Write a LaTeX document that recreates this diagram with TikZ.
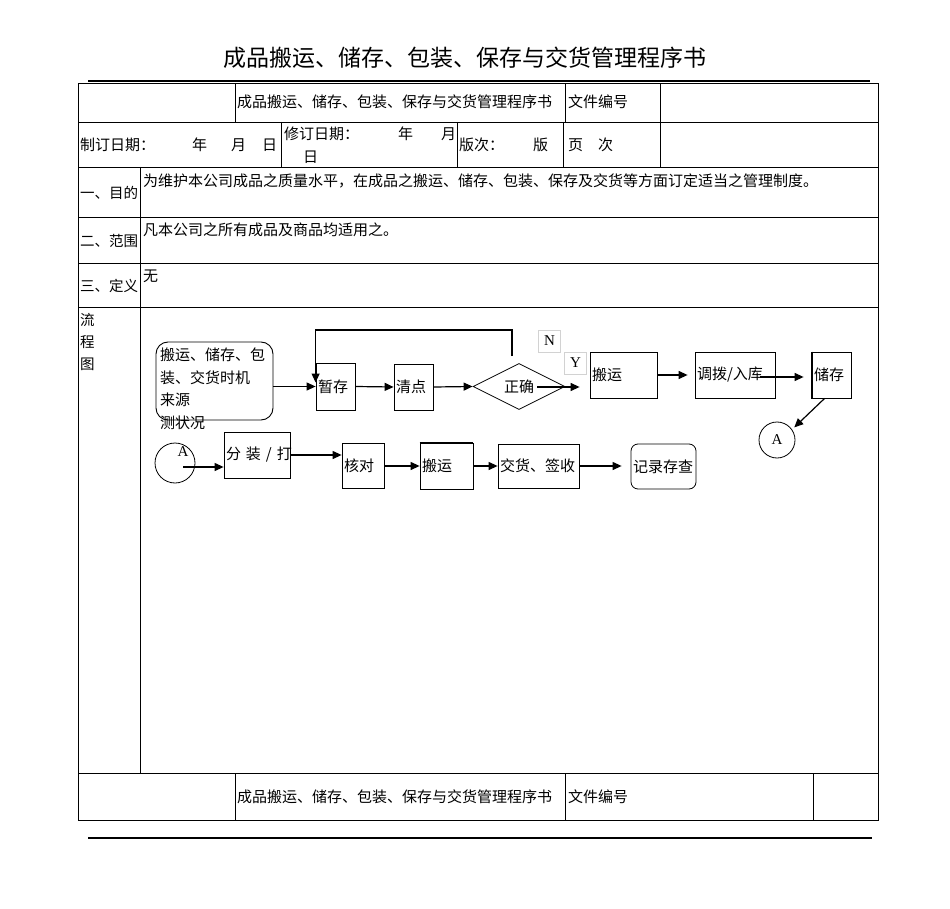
\documentclass[tikz,border=0pt]{standalone}
\usepackage{fontspec}
\setmainfont{Liberation Serif}
\newfontfamily\cjkf{Noto Sans CJK SC}
\usetikzlibrary{arrows.meta,calc,shapes.geometric}
\newcommand\myzh{\cjkf\fontsize{15}{18}\selectfont}
\newcommand\myzhs{\cjkf\fontsize{14.5}{17}\selectfont}
\tikzset{
  tline/.style={line width=0.9pt, draw=black},
  box/.style={draw, line width=0.8pt, inner xsep=2pt, inner ysep=0pt, align=left, anchor=center, font=\myzh},
  arr/.style={-{Triangle[length=9pt,width=8pt]}, line width=1.2pt},
  cell/.style={anchor=west, inner sep=0pt, font=\myzh},
  lab/.style={anchor=west, inner sep=0pt, font=\myzhs},
  yn/.style={draw=gray!35, line width=0.6pt, minimum width=22, minimum height=22, inner sep=0pt, font=\rmfamily\fontsize{15}{18}\selectfont}
}
\begin{document}
\begin{tikzpicture}[x=1pt,y=-1pt]
\useasboundingbox (0,0) rectangle (950,909);
% title
\node[inner sep=0pt, font=\cjkf\fontsize{23}{27}\selectfont] (title) at (465,58) {成品搬运、储存、包装、保存与交货管理程序书};
% table
\draw[line width=1.6pt] (88,81) -- (870,81);
\draw[tline] (78,83) rectangle (878,820);
\foreach \yy in {122,167,217,263,307,773} \draw[tline] (78,\yy) -- (878,\yy);
\foreach \xx in {235,565,660} \draw[tline] (\xx,83) -- (\xx,122);
\foreach \xx in {281,457,563,660} \draw[tline] (\xx,122) -- (\xx,167);
\draw[tline] (140,167) -- (140,773);
\foreach \xx in {235,565,813} \draw[tline] (\xx,773) -- (\xx,820);
\draw[line width=1.6pt] (88,838) -- (872,838);
% row 1
\node[cell] (r1a) at (237,102) {成品搬运、储存、包装、保存与交货管理程序书};
\node[cell] (r1b) at (568,102) {文件编号};
% row 2
\node[cell] (r2a) at (80,145) {制订日期：};
\node[cell] (r2b) at (192,145) {年};
\node[cell] (r2c) at (231,145) {月};
\node[cell] (r2d) at (262,145) {日};
\node[cell] (r2e) at (284,134) {修订日期：};
\node[cell] (r2f) at (398,134) {年};
\node[cell] (r2g) at (441,134) {月};
\node[cell] (r2h) at (303,157) {日};
\node[cell] (r2i) at (459,145) {版次：};
\node[cell] (r2j) at (533,145) {版};
\node[cell] (r2k) at (568,145) {页};
\node[cell] (r2l) at (598,145) {次};
% sections
\node[lab] (s1) at (80,193) {一、目的};
\node[cell] (s1t) at (143,181) {为维护本公司成品之质量水平，在成品之搬运、储存、包装、保存及交货等方面订定适当之管理制度。};
\node[lab] (s2) at (80,241) {二、范围};
\node[cell] (s2t) at (143,230) {凡本公司之所有成品及商品均适用之。};
\node[lab] (s3) at (80,286) {三、定义};
\node[cell] (s3t) at (143,276) {无};
\node[lab] (s4a) at (80,320) {流};
\node[lab] (s4b) at (80,342) {程};
\node[lab] (s4c) at (80,364) {图};
% footer
\node[cell] (f1) at (237,797) {成品搬运、储存、包装、保存与交货管理程序书};
\node[cell] (f2) at (568,797) {文件编号};
% flowchart row 1
\node[draw, line width=0.9pt, rounded corners=12pt, minimum width=117, minimum height=78, inner sep=0pt] (src) at (214.5,381) {};
\node[anchor=north west, inner sep=0pt, align=left, font=\cjkf\fontsize{15}{22.5}\selectfont] (srct) at (160,348) {搬运、储存、包\\装、交货时机\\来源\\测状况};
\node[box, text width=35, minimum height=47] (zc) at (335.5,386.5) {暂存};
\node[box, text width=35, minimum height=46] (qd) at (413.5,387) {清点};
\node[diamond, draw, line width=0.8pt, minimum width=92, minimum height=46, inner sep=0pt, aspect=2, font=\myzh] (dia) at (519,386.5) {正确};
\node[yn] (nl) at (549.5,341) {N};
\node[yn] (yl) at (575.5,363) {Y};
\node[box, text width=63, minimum height=46] (by1) at (623.5,375) {搬运};
\node[box, text width=76, minimum height=46] (db) at (735,375) {调拨/入库};
\node[box, text width=35, minimum height=46] (cc) at (831.5,375) {储存};
\draw[line width=1.8pt] (cc.north west) -- (cc.south west) -- (cc.south east);
\node[circle, draw, line width=0.8pt, minimum size=36, inner sep=0pt, font=\rmfamily\fontsize{15}{18}\selectfont] (a1) at (777,440) {A};
% flowchart row 2
\node[circle, draw, line width=0.8pt, minimum size=40, inner sep=0pt] (a2) at (175,463) {};
\node[inner sep=0pt, font=\rmfamily\fontsize{15}{18}\selectfont] (a2t) at (183,452) {A};
\node[box, text width=62, minimum height=46] (fz) at (257,455) {分~装~/~打};
\node[box, text width=38, minimum height=45] (hd) at (363,466) {核对};
\node[box, text width=49, minimum height=46] (by2) at (446.5,466) {搬运};
\draw[line width=1.6pt] (by2.north west) -- (by2.north east);
\node[box, text width=77, minimum height=44] (jh) at (538.5,466) {交货、签收};
\node[box, rounded corners=7pt, text width=61, minimum height=45] (jl) at (663.5,466.5) {记录存查};
% connectors row 1
\draw[arr] (src.east |- zc.west) -- (zc.west);
\draw[arr] (zc.east) -- (qd.west);
\draw[arr] (qd.east) -- (dia.west);
\coordinate (lp) at (512,356);
\coordinate (lptop) at (512,330);
\draw[arr] (lp) -- (lptop) -| ($(zc.west)+(0,-4)$);
\coordinate (dt) at (537,387);
\draw[arr, shorten >=10pt] (dt) -- (dt -| by1.west);
\draw[arr, shorten >=7pt] (by1.east) -- (db.west);
\coordinate (dbx) at (760,377);
\draw[arr, shorten >=8pt] (dbx) -- (dbx -| cc.west);
\draw[arr, shorten >=3pt] ($(cc.south west)+(13,0)$) -- (a1.35);
% connectors row 2
\coordinate (a2s) at (183,467);
\draw[arr] (a2s) -- (a2s -| fz.west);
\draw[arr] (fz.east) -- (fz.east -| hd.west);
\draw[arr] (hd.east) -- (by2.west);
\draw[arr] (by2.east) -- (jh.west);
\draw[arr, shorten >=9pt] (jh.east) -- (jh.east -| jl.west);
\end{tikzpicture}
\end{document}
